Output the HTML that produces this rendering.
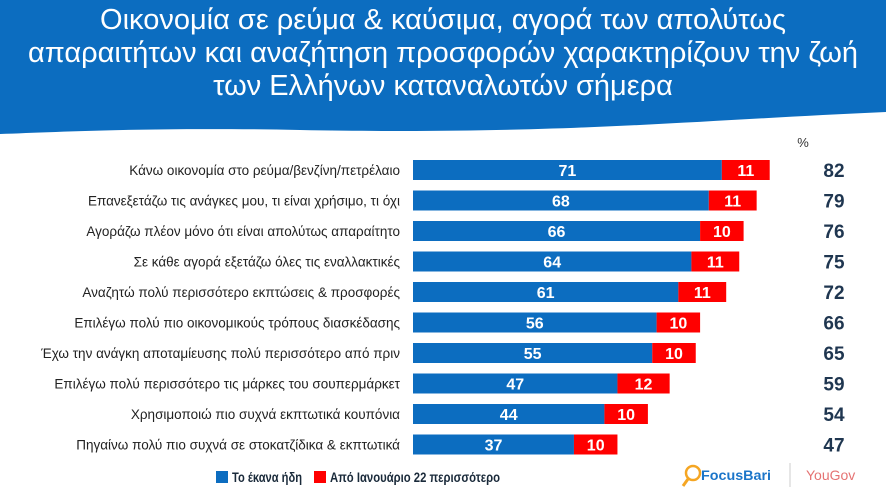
<!DOCTYPE html>
<html><head><meta charset="utf-8">
<style>
body{margin:0;width:886px;height:497px;overflow:hidden;background:#fff;font-family:"Liberation Sans","DejaVu Sans",sans-serif;position:relative}
#hdr{position:absolute;left:0;top:0}
#title{position:absolute;left:0;top:4px;width:886px;text-align:center;color:#fff;font-size:29px;line-height:33px;white-space:nowrap}
svg text{font-family:"Liberation Sans","DejaVu Sans",sans-serif}
</style></head><body>
<svg id="hdr" width="886" height="140"><path d="M0,0 H886 V112 C700,120 560,135 300,130 C150,127 60,132 0,134 Z" fill="#0C6DC0"/></svg>
<div id="title">Οικονομία σε ρεύμα &amp; καύσιμα, αγορά των απολύτως<br>απαραιτήτων και αναζήτηση προσφορών χαρακτηρίζουν την ζωή<br>των Ελλήνων καταναλωτών σήμερα</div>
<svg id="chart" width="886" height="497" style="position:absolute;left:0;top:0">
<text x="803" y="147" font-size="13" fill="#333" text-anchor="middle">%</text>
<g id="rows"></g>
<rect x="216" y="471" width="12" height="12" fill="#0C6DC0"/>
<text x="232" y="482" font-size="14" font-weight="bold" fill="#1a2a3a" textLength="70" lengthAdjust="spacingAndGlyphs">Το έκανα ήδη</text>
<rect x="314" y="471" width="12" height="12" fill="#F00"/>
<text x="330" y="482" font-size="14" font-weight="bold" fill="#1a2a3a" textLength="170" lengthAdjust="spacingAndGlyphs">Από Ιανουάριο 22 περισσότερο</text>
<circle cx="693" cy="473" r="7" fill="none" stroke="#F5A623" stroke-width="2.5"/>
<line x1="688" y1="479" x2="683" y2="486" stroke="#F5A623" stroke-width="3"/>
<text x="701" y="480" font-size="14" font-weight="bold" fill="#1B75C9" textLength="70" lengthAdjust="spacingAndGlyphs">FocusBari</text>
<line x1="790" y1="463" x2="790" y2="487" stroke="#ccc"/>
<text x="806" y="480" font-size="14" fill="#E57373">YouGov</text>
</svg>
<script>
const categories=["Κάνω οικονομία στο ρεύμα/βενζίνη/πετρέλαιο","Επανεξετάζω τις ανάγκες μου, τι είναι χρήσιμο, τι όχι","Αγοράζω πλέον  μόνο ότι είναι απολύτως απαραίτητο","Σε κάθε αγορά εξετάζω όλες τις εναλλακτικές","Αναζητώ πολύ περισσότερο εκπτώσεις & προσφορές","Επιλέγω πολύ πιο οικονομικούς τρόπους διασκέδασης","Έχω την ανάγκη αποταμίευσης πολύ περισσότερο από πριν","Επιλέγω πολύ περισσότερο τις μάρκες του σουπερμάρκετ","Χρησιμοποιώ πιο συχνά εκπτωτικά κουπόνια","Πηγαίνω πολύ πιο συχνά σε στοκατζίδικα & εκπτωτικά"];
const alreadyValues=[71,68,66,64,61,56,55,47,44,37];
const moreValues=[11,11,10,11,11,10,10,12,10,10];
const totals=[82,79,76,75,72,66,65,59,54,47];
const NS="http://www.w3.org/2000/svg";
const x0=413,scale=4.35;
const xs=v=>x0+v*scale;
const yc=i=>170+i*30.5;
const g=document.getElementById('rows');
function mk(t,a){const e=document.createElementNS(NS,t);for(const k in a)e.setAttribute(k,a[k]);g.appendChild(e);return e;}
categories.forEach((c,i)=>{
 const y=yc(i);
 const l=mk('text',{x:400,y:y+5,'font-size':13.5,fill:'#222','text-anchor':'end'});l.textContent=c;
 
 
 const a=alreadyValues[i],m=moreValues[i];
 const b1=mk('rect',{x:x0,y:y-10,width:xs(a)-x0,height:20,fill:'#0C6DC0'});
 
 
 const b2=mk('rect',{x:xs(a),y:y-10,width:xs(a+m)-xs(a),height:20,fill:'#FF0000'});
 
 
 const t1=mk('text',{x:(x0+xs(a))/2,y:y+6,'font-size':16,'font-weight':'bold',fill:'#fff','text-anchor':'middle'});t1.textContent=a;
 
 
 const t2=mk('text',{x:(xs(a)+xs(a+m))/2,y:y+6,'font-size':16,'font-weight':'bold',fill:'#fff','text-anchor':'middle'});t2.textContent=m;
 
 
 const t3=mk('text',{x:834,y:y+7,'font-size':19,'font-weight':'bold',fill:'#1f3650','text-anchor':'middle'});t3.textContent=totals[i];
 
 
});
</script>
</body></html>
